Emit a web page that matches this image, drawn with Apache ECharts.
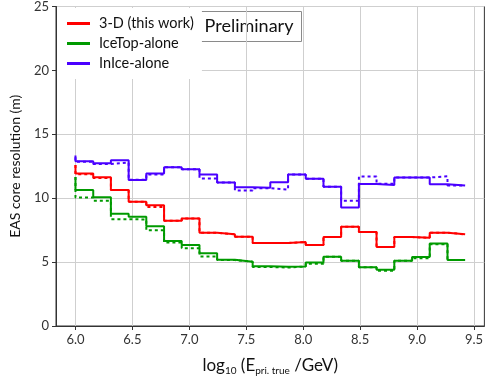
<!DOCTYPE html>
<html><head><meta charset="utf-8">
<script src="https://cdn.jsdelivr.net/npm/echarts@6/dist/echarts.min.js"></script>
<style>html,body{margin:0;padding:0;background:#fff}#c{width:486px;height:381px}</style>
</head><body><div id="c"></div><script>
// bin edges (log10 E) — first value of each series is the value drawn at the first edge
const binEdges = [6.0, 6.156, 6.311, 6.467, 6.622, 6.778, 6.933, 7.089, 7.244, 7.4, 7.556, 7.711, 7.867, 8.022, 8.178, 8.333, 8.489, 8.644, 8.8, 8.956, 9.111, 9.267, 9.422];
const xTicks = [6.0, 6.5, 7.0, 7.5, 8.0, 8.5, 9.0, 9.5];
const yTicks = [0, 5, 10, 15, 20, 25];

const threeD       = [12.6, 11.94, 11.63, 10.65, 9.72, 9.44, 8.23, 8.41, 7.3, 7.17, 6.99, 6.49, 6.49, 6.57, 6.34, 6.96, 7.76, 7.35, 6.19, 6.96, 6.9, 7.3, 7.17];
const threeDDash   = [12.6, 11.88, 11.58, 10.65, 9.72, 9.31, 8.23, 8.41, 7.3, 7.17, 6.99, 6.49, 6.49, 6.57, 6.34, 6.96, 7.76, 7.35, 6.19, 6.96, 6.9, 7.3, 7.17];
const iceTop       = [11.65, 10.65, 10.08, 8.79, 8.54, 7.81, 6.65, 6.34, 5.7, 5.18, 5.03, 4.67, 4.64, 4.66, 4.97, 5.41, 5.1, 4.6, 4.4, 5.1, 5.39, 6.46, 5.17];
const iceTopDash   = [11.65, 10.05, 9.8, 8.36, 8.33, 7.5, 6.53, 6.09, 5.44, 5.16, 5.03, 4.62, 4.57, 4.66, 4.87, 5.41, 5.1, 4.6, 4.32, 5.1, 5.3, 6.4, 5.17];
const inIce        = [13.35, 12.9, 12.74, 12.97, 11.42, 11.94, 12.43, 12.26, 11.85, 11.23, 10.86, 10.82, 11.24, 11.86, 11.52, 10.9, 9.27, 11.12, 11.04, 11.62, 11.62, 11.1, 11.0];
const inIceDash    = [13.2, 12.85, 12.68, 12.79, 11.45, 11.86, 12.43, 12.26, 11.55, 11.23, 10.6, 10.78, 10.67, 11.86, 11.52, 10.9, 9.8, 11.7, 11.14, 11.62, 11.62, 11.71, 11.0];

const names = ['3-D (this work)', 'IceTop-alone', 'InIce-alone'];
const colors = ['#ff0000', '#009a00', '#4a00ff'];

function pts(v) { return binEdges.map((x, i) => [x, v[i]]); }
function mk(name, color, vals, dashed) {
  return {
    name: name, type: 'line', step: 'start', symbol: 'none', data: pts(vals),
    lineStyle: { color: color, width: 2, type: dashed ? [3, 3] : 'solid' },
    itemStyle: { color: color }, z: dashed ? 2 : 3, silent: true
  };
}

const chart = echarts.init(document.getElementById('c'), null, { renderer: 'canvas' });
const font = 'Lato, "Liberation Sans", sans-serif';
chart.setOption({
  animation: false,
  textStyle: { fontFamily: font },
  grid: { left: 52, right: 0, top: 5, bottom: 52, show: true, borderColor: '#333', borderWidth: 1, backgroundColor: 'transparent' },
  xAxis: {
    type: 'value', min: 5.829, max: 9.591,
    name: '{b|log}{s|10}{b| (E}{s|pri. true}{b| /GeV)}',
    nameLocation: 'middle', nameGap: 30,
    nameTextStyle: { rich: {
      b: { fontSize: 17, lineHeight: 20, color: '#111', fontFamily: font },
      s: { fontSize: 10, lineHeight: 10, verticalAlign: 'bottom', color: '#111', fontFamily: font }
    } },
    axisLine: { lineStyle: { color: '#333' } },
    axisTick: { show: true, length: 4, inside: false, customValues: xTicks, lineStyle: { color: '#333' } },
    axisLabel: { customValues: xTicks, formatter: v => v.toFixed(1), fontSize: 13, color: '#333', margin: 7, fontFamily: font },
    splitLine: { show: true, lineStyle: { color: '#cfcfcf', width: 1 } }
  },
  yAxis: {
    type: 'value', min: 0, max: 25, interval: 5,
    name: 'EAS core resolution (m)', nameLocation: 'middle', nameGap: 34,
    nameTextStyle: { fontSize: 14, color: '#111', fontFamily: font },
    axisLine: { show: true, lineStyle: { color: '#333' } },
    axisTick: { show: true, length: 4, lineStyle: { color: '#333' } },
    axisLabel: { fontSize: 13, color: '#333', margin: 7, fontFamily: font },
    splitLine: { show: true, lineStyle: { color: '#cfcfcf', width: 1 } }
  },
  legend: {
    data: names, orient: 'vertical', left: 57, top: 8,
    backgroundColor: '#fff', padding: [8, 8, 8, 10],
    icon: 'rect', itemWidth: 23, itemHeight: 3, itemGap: 5,
    textStyle: { fontSize: 14.5, color: '#111', lineHeight: 14, padding: [0, 0, 0, 4], fontFamily: font },
    selectedMode: false
  },
  graphic: [{
    type: 'group', left: 196, top: 11, z: 100,
    children: [
      { type: 'rect', shape: { x: 0, y: 0, width: 105, height: 30 }, style: { fill: '#fff', stroke: '#8a8a8a', lineWidth: 1 } },
      { type: 'text', x: 52.5, y: 15, style: { text: 'Preliminary', fontSize: 18, fill: '#111', align: 'center', verticalAlign: 'middle', fontFamily: font } }
    ]
  }],
  series: [
    mk(names[0] + ' ', colors[0], threeDDash, true),
    mk(names[1] + ' ', colors[1], iceTopDash, true),
    mk(names[2] + ' ', colors[2], inIceDash, true),
    mk(names[0], colors[0], threeD, false),
    mk(names[1], colors[1], iceTop, false),
    mk(names[2], colors[2], inIce, false)
  ]
});
</script></body></html>
